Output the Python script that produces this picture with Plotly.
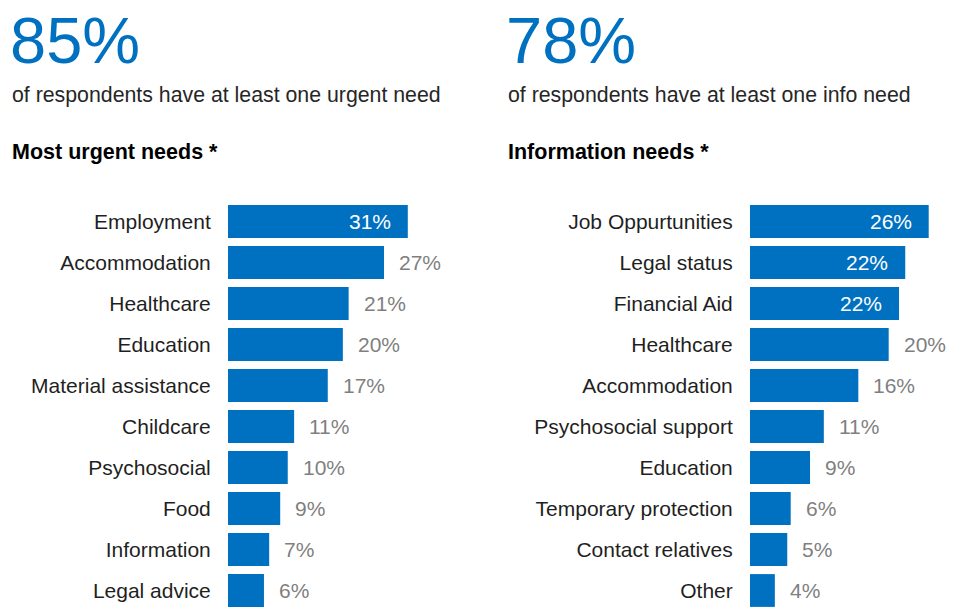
import plotly.graph_objects as go

# ---------------- data ----------------
left_headline = "85%"
left_subtitle = "of respondents have at least one urgent need"
left_title = "Most urgent needs *"
left_categories = ["Employment", "Accommodation", "Healthcare", "Education",
                   "Material assistance", "Childcare", "Psychosocial", "Food",
                   "Information", "Legal advice"]
left_values = [31.0, 26.9, 20.8, 19.8, 17.2, 11.4, 10.3, 9.0, 7.1, 6.2]
left_labels = ["31%", "27%", "21%", "20%", "17%", "11%", "10%", "9%", "7%", "6%"]
left_inside = 1  # number of top bars whose label sits inside the bar

right_headline = "78%"
right_subtitle = "of respondents have at least one info need"
right_title = "Information needs *"
right_categories = ["Job Oppurtunities", "Legal status", "Financial Aid", "Healthcare",
                    "Accommodation", "Psychosocial support", "Education",
                    "Temporary protection", "Contact relatives", "Other"]
right_values = [25.9, 22.5, 21.6, 20.1, 15.7, 10.7, 8.7, 5.9, 5.4, 3.6]
right_labels = ["26%", "22%", "22%", "20%", "16%", "11%", "9%", "6%", "5%", "4%"]
right_inside = 3

# ---------------- style ----------------
W, H = 967, 611
TOP = 201          # plot area top
BOT = 0
PLOT_H = H - TOP - BOT
BLUE = "#0070C0"
GRAY = "#7F7F7F"
DARK = "#1F1F1F"
FONT = "Liberation Sans, Arial, sans-serif"
FS = 21

def px_x(p):
    return p / W

def px_y(p):
    return (H - BOT - p) / PLOT_H

fig = go.Figure()

panels = [
    dict(cats=left_categories, vals=left_values, labels=left_labels, inside=left_inside,
         xa="x", ya="y", head=left_headline, sub=left_subtitle, title=left_title, tx=12),
    dict(cats=right_categories, vals=right_values, labels=right_labels, inside=right_inside,
         xa="x2", ya="y2", head=right_headline, sub=right_subtitle, title=right_title, tx=508),
]

annotations = []
for i, p in enumerate(panels):
    fig.add_trace(go.Bar(
        x=p["vals"], y=p["cats"], orientation="h",
        marker=dict(color=BLUE, line=dict(width=0)),
        xaxis=p["xa"], yaxis=p["ya"], hoverinfo="skip", showlegend=False,
    ))
    for k, (c, v, lab) in enumerate(zip(p["cats"], p["vals"], p["labels"])):
        inside = k < p["inside"]
        annotations.append(dict(
            x=v, y=c, xref=p["xa"], yref=p["ya"], text=lab, showarrow=False,
            xanchor="right" if inside else "left",
            xshift=-15 if inside else 13,
            font=dict(family=FONT, size=FS, color="white" if inside else GRAY),
        ))
    annotations += [
        dict(x=px_x(p["tx"] - 4), y=px_y(40), xref="paper", yref="paper", text=p["head"],
             showarrow=False, xanchor="left", yanchor="middle",
             font=dict(family=FONT, size=65, color=BLUE)),
        dict(x=px_x(p["tx"] - 2), y=px_y(95), xref="paper", yref="paper", text=p["sub"],
             showarrow=False, xanchor="left", yanchor="middle",
             font=dict(family=FONT, size=21.3, color="#262626")),
        dict(x=px_x(p["tx"] - 2), y=px_y(152), xref="paper", yref="paper",
             text="<b>" + p["title"] + "</b>",
             showarrow=False, xanchor="left", yanchor="middle",
             font=dict(family=FONT, size=21.5, color="#000000")),
    ]

axis_common = dict(showgrid=False, zeroline=False, showline=False, fixedrange=True)
fig.update_layout(
    width=W, height=H,
    margin=dict(l=0, r=0, t=TOP, b=BOT, pad=0),
    paper_bgcolor="white", plot_bgcolor="white",
    bargap=0.2,
    font=dict(family=FONT, size=FS, color=DARK),
    xaxis=dict(domain=[px_x(228), px_x(460)], range=[0, 40], showticklabels=False, **axis_common),
    xaxis2=dict(domain=[px_x(750), px_x(957)], range=[0, 30], showticklabels=False, **axis_common),
    yaxis=dict(anchor="x", autorange="reversed", ticks="outside", ticklen=12,
               tickcolor="rgba(0,0,0,0)", tickfont=dict(family=FONT, size=FS, color=DARK),
               **axis_common),
    yaxis2=dict(anchor="x2", autorange="reversed", ticks="outside", ticklen=12,
                tickcolor="rgba(0,0,0,0)", tickfont=dict(family=FONT, size=FS, color=DARK),
                **axis_common),
    annotations=annotations,
)

fig.write_html(
    "out.html",
    config={"displayModeBar": False},
    post_script="document.body.style.margin='0';document.body.style.overflow='hidden';",
)
